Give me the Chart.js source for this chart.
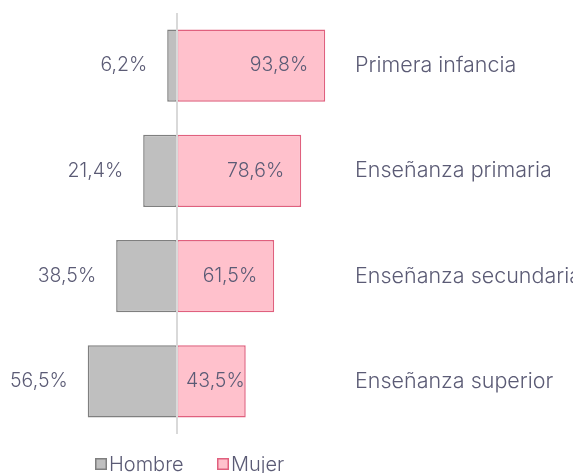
<!DOCTYPE html>
<html>
<head>
<meta charset="utf-8">
<script src="https://cdn.jsdelivr.net/npm/chart.js@4.4.1/dist/chart.umd.min.js"></script>
<style>
	html, body { margin: 0; padding: 0; background: #fff; }
	#wrap { position: relative; width: 573px; height: 473px; }
</style>
</head>
<body>
<div id="wrap"><canvas id="chart"></canvas></div>
<script>
( function () {
	'use strict';

	var categories = [ 'Primera infancia', 'Enseñanza primaria', 'Enseñanza secundaria', 'Enseñanza superior' ];
	var hombre = [ 6.2, 21.4, 38.5, 56.5 ];
	var mujer = [ 93.8, 78.6, 61.5, 43.5 ];

	var textColor = '#5b5b75';
	var catFont = '300 21.5px Inter, Lato, sans-serif';
	var valFont = '300 19.5px Inter, Lato, sans-serif';
	var legFont = '300 20px Inter, Lato, sans-serif';

	function fmt( v ) {
		return Math.abs( v ).toFixed( 1 ).replace( '.', ',' ) + '%';
	}

	var labelPlugin = {
		id: 'labels',
		afterDatasetsDraw: function ( chart ) {
			var ctx = chart.ctx;
			var area = chart.chartArea;
			var x0 = chart.scales.x.getPixelForValue( 0 );

			// center line
			ctx.save();
			ctx.strokeStyle = '#d9d9d9';
			ctx.lineWidth = 2;
			ctx.beginPath();
			ctx.moveTo( x0, area.top );
			ctx.lineTo( x0, area.bottom );
			ctx.stroke();

			ctx.fillStyle = textColor;
			ctx.textBaseline = 'middle';

			// value labels
			ctx.font = valFont;
			chart.getDatasetMeta( 0 ).data.forEach( function ( el, i ) {
				ctx.textAlign = 'right';
				ctx.fillText( fmt( hombre[ i ] ), el.x - 20, el.y );
			} );
			chart.getDatasetMeta( 1 ).data.forEach( function ( el, i ) {
				var txt = fmt( mujer[ i ] );
				var w = ctx.measureText( txt ).width;
				var right = el.x - 17;
				if ( right - w < el.base + 9 ) {
					right = el.base + 9 + w;
				}
				ctx.textAlign = 'right';
				ctx.fillText( txt, right, el.y );
			} );

			// category labels
			var yScale = chart.scales.y;
			ctx.font = catFont;
			ctx.textAlign = 'left';
			categories.forEach( function ( c, i ) {
				ctx.fillText( c, area.right + 20, yScale.getPixelForValue( i ) );
			} );

			// legend
			ctx.font = legFont;
			var items = [ { x: 95, ds: chart.data.datasets[ 0 ] }, { x: 217, ds: chart.data.datasets[ 1 ] } ];
			items.forEach( function ( it ) {
				ctx.fillStyle = it.ds.backgroundColor;
				ctx.fillRect( it.x, 458, 12, 12 );
				ctx.strokeStyle = it.ds.borderColor;
				ctx.lineWidth = 1.5;
				ctx.strokeRect( it.x + 0.75, 458.75, 10.5, 10.5 );
				ctx.fillStyle = textColor;
				ctx.fillText( it.ds.label, it.x + 14, 465 );
			} );
			ctx.restore();
		},
	};

	new Chart( document.getElementById( 'chart' ), {
		type: 'bar',
		data: {
			labels: categories,
			datasets: [
				{
					label: 'Hombre',
					data: hombre.map( function ( v ) { return -v; } ),
					backgroundColor: '#bfbfbf',
					borderColor: '#7f7f7f',
					borderWidth: 1.5,
					borderSkipped: false,
					categoryPercentage: 1,
					barPercentage: 0.685,
				},
				{
					label: 'Mujer',
					data: mujer,
					backgroundColor: '#ffc1cc',
					borderColor: '#e0607e',
					borderWidth: 1.5,
					borderSkipped: false,
					categoryPercentage: 1,
					barPercentage: 0.685,
				},
			],
		},
		options: {
			indexAxis: 'y',
			responsive: true,
			maintainAspectRatio: false,
			animation: false,
			layout: {
				padding: { left: 19, right: 238, top: 13, bottom: 39 },
			},
			plugins: {
				legend: { display: false },
				tooltip: { enabled: false },
			},
			scales: {
				x: {
					display: false,
					stacked: true,
					min: -100,
					max: 100,
				},
				y: {
					display: false,
					stacked: true,
				},
			},
		},
		plugins: [ labelPlugin ],
	} );
} )();
</script>
</body>
</html>
